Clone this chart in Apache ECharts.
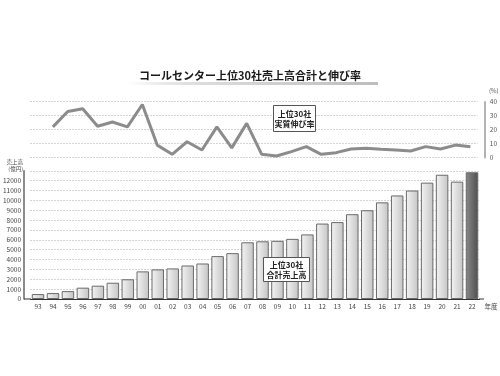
<!DOCTYPE html>
<html>
<head>
<meta charset="utf-8">
<script src="https://cdn.jsdelivr.net/npm/echarts@6/dist/echarts.min.js"></script>
<style>
  html, body { margin: 0; padding: 0; background: #fff; }
  #chart { width: 500px; height: 376px; }
</style>
</head>
<body>
<div id="chart"></div>
<script>
  // 年度 (1993〜2022)
  const years = ['93','94','95','96','97','98','99','00','01','02','03','04','05','06','07',
                 '08','09','10','11','12','13','14','15','16','17','18','19','20','21','22']
  // 上位30社 合計売上高 (億円)
  const sales = [500, 600, 800, 1150, 1350, 1650, 2000, 2800, 3000, 3100, 3400, 3600, 4350, 4650, 5750,
                 5850, 5900, 6100, 6550, 7650, 7800, 8600, 9000, 9800, 10500, 11000, 11800, 12600, 11900, 12850]
  // 上位30社 実質伸び率 (%) — 93年度はデータなし
  const growth = [null, 22, 33, 35, 22.5, 25.5, 22, 38, 9, 2.4, 11.4, 5.5, 22, 7, 24.5,
                  2.5, 1.2, 4.3, 7.9, 2.4, 3.6, 6.2, 6.7, 6, 5.5, 4.8, 7.9, 6.2, 9, 7.9]
  const rateTicks = [0, 10, 20, 30, 40]
  const salesMax = 13000

  const font = 'Noto Sans CJK JP'
  const chart = echarts.init(document.getElementById('chart'))

  // 通常の棒と最新年度の棒
  const lightBar = new echarts.graphic.LinearGradient(0, 0, 1, 0, [
    { offset: 0, color: '#f4f4f4' }, { offset: 1, color: '#c4c4c4' }
  ])
  const darkBar = new echarts.graphic.LinearGradient(0, 0, 1, 0, [
    { offset: 0, color: '#8a8a8a' }, { offset: 1, color: '#4e4e4e' }
  ])

  chart.setOption({
    backgroundColor: '#fff',
    textStyle: { fontFamily: font },
    animation: false,
    grid: [
      { left: 30.5, right: 20.5, top: 101.7, height: 56 },
      { left: 30.5, right: 20.5, top: 170.8, height: 128.2 }
    ],
    xAxis: [
      {
        gridIndex: 0, type: 'category', data: years,
        axisLine: { show: false }, axisTick: { show: false }, axisLabel: { show: false }
      },
      {
        gridIndex: 1, type: 'category', data: years,
        name: '年度', nameLocation: 'end', nameGap: 5,
        nameTextStyle: { fontSize: 6.5, color: '#444', verticalAlign: 'top', padding: [4, 0, 0, 0] },
        axisLine: { lineStyle: { color: '#333', width: 1 } },
        axisTick: { show: false },
        axisLabel: { fontSize: 6.5, color: '#444', margin: 4, interval: 0 }
      }
    ],
    yAxis: [
      {
        gridIndex: 0, type: 'value', position: 'right', offset: 7,
        min: 0, max: 40, interval: 10,
        axisLine: { show: true, lineStyle: { color: '#9a9a9a', width: 1.5 } },
        axisTick: { show: false },
        axisLabel: { fontSize: 6.5, color: '#555', margin: 5,
          formatter: v => rateTicks.includes(v) ? String(v) : '' },
        splitLine: { lineStyle: { color: '#aaa', type: [1, 2] } }
      },
      {
        gridIndex: 1, type: 'value', offset: 6.5,
        min: 0, max: salesMax, interval: 1000,
        axisLine: { show: true, lineStyle: { color: '#666', width: 1.5 } },
        axisTick: { show: false },
        axisLabel: { fontSize: 6.5, color: '#444', margin: 3,
          formatter: v => v >= salesMax ? '' : String(v) },
        splitLine: { lineStyle: { color: '#aaa', type: [1, 2] } }
      }
    ],
    series: [
      {
        name: '実質伸び率', type: 'line', xAxisIndex: 0, yAxisIndex: 0,
        data: growth, symbol: 'none', connectNulls: false,
        lineStyle: { color: '#8c8c8c', width: 3 }
      },
      {
        name: '合計売上高', type: 'bar', xAxisIndex: 1, yAxisIndex: 1,
        barWidth: 12.5,
        data: sales.map((v, i) => ({
          value: v,
          itemStyle: { color: i === sales.length - 1 ? darkBar : lightBar }
        })),
        itemStyle: { borderColor: '#6a6a6a', borderWidth: 1 }
      }
    ],
    graphic: [
      // タイトル下の影
      {
        type: 'rect', z: 100, shape: { x: 128, y: 82, width: 250, height: 3 },
        style: { fill: new echarts.graphic.LinearGradient(0, 0, 1, 0, [
          { offset: 0, color: 'rgba(200,200,200,0)' }, { offset: 0.3, color: '#dcdcdc' }, { offset: 1, color: '#bdbdbd' }
        ]) }
      },
      {
        type: 'text', z: 101, left: 'center', top: 70,
        style: { text: 'コールセンター上位30社売上高合計と伸び率', font: 'bold 11px "Noto Sans CJK JP"', fill: '#1a1a1a' }
      },
      { type: 'text', z: 100, x: 489, y: 88, style: { text: '(%)', font: '6px "Noto Sans CJK JP"', fill: '#555' } },
      {
        type: 'text', z: 100, x: 23, y: 159,
        style: { text: '売上高\n(億円)', font: '5.5px "Noto Sans CJK JP"', fill: '#444', align: 'right', lineHeight: 6.5 }
      },
      // x軸の両端延長
      { type: 'line', z: 100, shape: { x1: 24, y1: 299, x2: 31, y2: 299 }, style: { stroke: '#333', lineWidth: 1 } },
      { type: 'line', z: 100, shape: { x1: 479, y1: 299, x2: 484, y2: 299 }, style: { stroke: '#333', lineWidth: 1 } },
      // 注記ボックス
      {
        type: 'rect', z: 100, shape: { x: 273.5, y: 105.5, width: 42, height: 26 },
        style: { fill: '#fff', stroke: '#555', lineWidth: 1 }
      },
      {
        type: 'text', z: 101, x: 294.5, y: 118.5,
        style: { text: '上位30社\n実質伸び率', font: 'bold 8px "Noto Sans CJK JP"', fill: '#222',
          align: 'center', verticalAlign: 'middle', lineHeight: 10 }
      },
      {
        type: 'rect', z: 100, shape: { x: 263.5, y: 257.5, width: 46, height: 24 },
        style: { fill: '#fff', stroke: '#555', lineWidth: 1 }
      },
      {
        type: 'text', z: 101, x: 286.5, y: 269.5,
        style: { text: '上位30社\n合計売上高', font: 'bold 8px "Noto Sans CJK JP"', fill: '#222',
          align: 'center', verticalAlign: 'middle', lineHeight: 10 }
      }
    ]
  })
</script>
</body>
</html>
